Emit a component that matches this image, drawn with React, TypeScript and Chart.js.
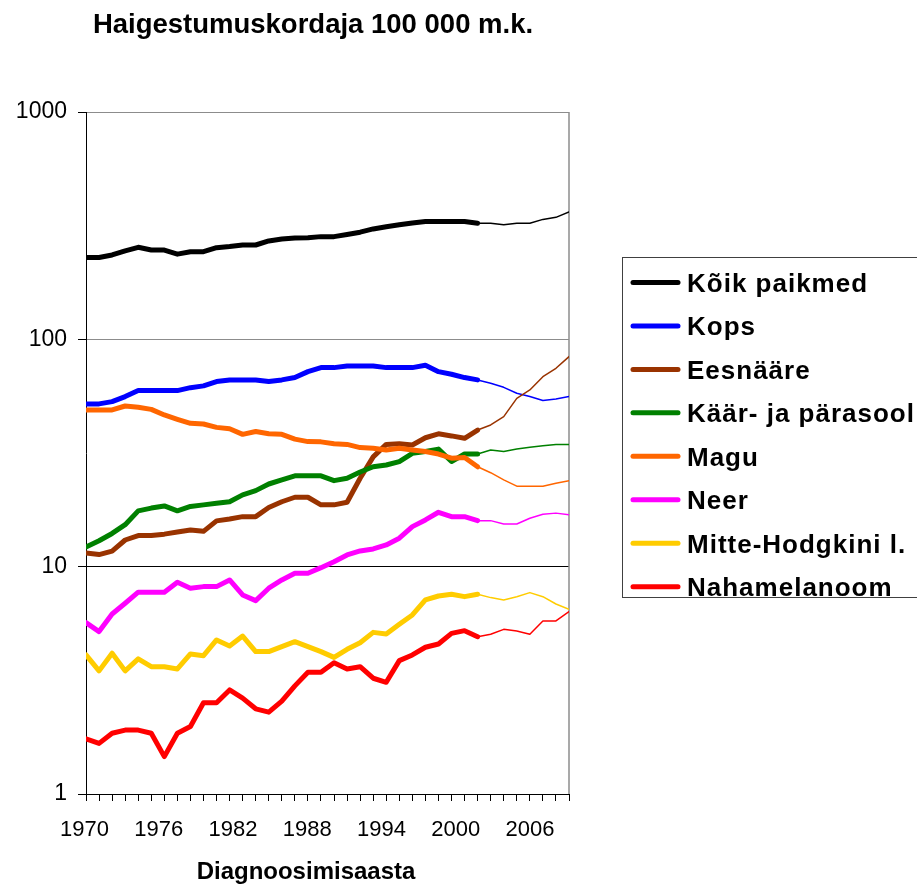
import React, { useEffect, useRef } from 'react';
import { Chart, registerables } from 'chart.js';

Chart.register(...registerables);

const chartTitle = 'Haigestumuskordaja 100 000 m.k.';
const xAxisTitle = 'Diagnoosimisaasta';

const years = [
  1970, 1971, 1972, 1973, 1974, 1975, 1976, 1977, 1978, 1979,
  1980, 1981, 1982, 1983, 1984, 1985, 1986, 1987, 1988, 1989,
  1990, 1991, 1992, 1993, 1994, 1995, 1996, 1997, 1998, 1999,
  2000, 2001, 2002, 2003, 2004, 2005, 2006, 2007,
];
const xTickLabels = ['1970', '1976', '1982', '1988', '1994', '2000', '2006'];
const yTickValues = [1, 10, 100, 1000];

const seriesNames = [
  'Kõik paikmed',
  'Kops',
  'Eesnääre',
  'Käär- ja pärasool',
  'Magu',
  'Neer',
  'Mitte-Hodgkini l.',
  'Nahamelanoom',
];
const seriesColors = ['#000000', '#0000FF', '#993300', '#008000', '#FF6600', '#FF00FF', '#FFCC00', '#FF0000'];

const allSites = [229, 229, 235, 245, 254, 247, 247, 237, 243, 243, 253, 256, 260, 260, 271, 276, 279, 280, 283, 283, 289, 296, 306, 313, 319, 325, 330, 330, 330, 330, 324, 324, 319, 324, 324, 337, 344, 363];
const lung = [52, 52, 53.2, 56, 59.5, 59.5, 59.5, 59.5, 61.3, 62.4, 65.2, 66.3, 66.3, 66.3, 65.2, 66.3, 67.9, 72.1, 75.1, 75.1, 76.4, 76.4, 76.4, 75.1, 75.1, 75.1, 76.9, 72.1, 70.2, 67.9, 66.3, 64.1, 61.5, 57.9, 56, 53.8, 54.7, 56];
const prostate = [11.5, 11.3, 11.7, 13.1, 13.7, 13.7, 13.9, 14.2, 14.5, 14.3, 15.9, 16.2, 16.6, 16.6, 18.2, 19.3, 20.2, 20.2, 18.7, 18.7, 19.2, 24.5, 30.4, 34.5, 34.7, 34.3, 36.9, 38.4, 37.6, 36.7, 39.9, 42.0, 45.7, 55.0, 59.9, 68.5, 74.6, 83.9];
const colorectal = [12.2, 13.0, 14.0, 15.3, 17.6, 18.1, 18.5, 17.6, 18.4, 18.7, 19.0, 19.3, 20.7, 21.6, 23.1, 24.1, 25.1, 25.1, 25.1, 23.9, 24.5, 26.1, 27.5, 28.0, 29.0, 31.5, 32.1, 32.9, 29.0, 31.3, 31.3, 32.6, 32.1, 32.9, 33.5, 34.0, 34.5, 34.5];
const stomach = [48.9, 48.9, 48.9, 50.9, 50.3, 49.2, 46.5, 44.5, 42.7, 42.4, 41.0, 40.4, 38.2, 39.3, 38.4, 38.2, 36.4, 35.5, 35.4, 34.7, 34.5, 33.4, 33.2, 32.6, 33.2, 32.6, 32.1, 31.3, 30.0, 30.2, 27.5, 25.9, 24.1, 22.6, 22.6, 22.6, 23.3, 23.9];
const kidney = [5.67, 5.18, 6.19, 6.9, 7.72, 7.72, 7.72, 8.54, 8.04, 8.17, 8.17, 8.74, 7.51, 7.09, 8.04, 8.74, 9.35, 9.35, 9.9, 10.52, 11.26, 11.73, 11.97, 12.46, 13.34, 15.0, 16.05, 17.35, 16.6, 16.6, 15.94, 15.94, 15.4, 15.4, 16.33, 17.0, 17.2, 16.9];
const nhl = [4.09, 3.48, 4.16, 3.48, 3.93, 3.63, 3.63, 3.55, 4.13, 4.06, 4.76, 4.48, 4.95, 4.23, 4.23, 4.45, 4.68, 4.45, 4.23, 3.99, 4.33, 4.63, 5.14, 5.06, 5.58, 6.13, 7.14, 7.43, 7.56, 7.38, 7.56, 7.31, 7.14, 7.38, 7.69, 7.38, 6.85, 6.49];
const melanoma = [1.75, 1.67, 1.85, 1.91, 1.91, 1.85, 1.46, 1.85, 1.98, 2.52, 2.52, 2.87, 2.64, 2.37, 2.29, 2.56, 2.99, 3.43, 3.43, 3.78, 3.55, 3.63, 3.23, 3.1, 3.86, 4.09, 4.42, 4.57, 5.09, 5.23, 4.92, 5.04, 5.3, 5.21, 5.04, 5.77, 5.77, 6.34];

const LAST_THICK_YEAR = 2000;
const FONT = "'Liberation Sans', Arial, Helvetica, sans-serif";

export default function App() {
  const ref = useRef<HTMLCanvasElement>(null);

  useEffect(() => {
    const canvas = ref.current;
    if (!canvas) return;
    const series = [allSites, lung, prostate, colorectal, stomach, kidney, nhl, melanoma];
    const thickEnd = years.indexOf(LAST_THICK_YEAR);

    const datasets = series.map((vals, i) => ({
      label: seriesNames[i],
      data: years.map((yr, j) => ({ x: yr, y: vals[j] })),
      borderColor: seriesColors[i],
      backgroundColor: seriesColors[i],
      borderWidth: 5,
      borderCapStyle: 'round' as const,
      borderJoinStyle: 'round' as const,
      pointRadius: 0,
      pointHoverRadius: 0,
      tension: 0,
      order: series.length - i,
      segment: {
        borderWidth: (c: any) => (c.p0DataIndex >= thickEnd ? 1.5 : 5),
      },
    }));

    const decor = {
      id: 'decor',
      beforeDatasetsDraw(chart: any) {
        const { ctx, chartArea } = chart;
        ctx.save();
        ctx.strokeStyle = '#8c8c8c';
        ctx.lineWidth = 1.5;
        ctx.beginPath();
        ctx.moveTo(chartArea.right, chartArea.top);
        ctx.lineTo(chartArea.right, chartArea.bottom);
        ctx.stroke();
        ctx.restore();
      },
      afterDraw(chart: any) {
        const { ctx } = chart;
        ctx.save();
        ctx.fillStyle = '#000';
        ctx.textBaseline = 'alphabetic';
        // title
        ctx.font = `bold 27.5px ${FONT}`;
        (ctx as any).letterSpacing = '0px';
        ctx.textAlign = 'center';
        ctx.fillText(chartTitle, 313, 33);
        // x axis title
        ctx.font = `bold 24px ${FONT}`;
        ctx.fillText(xAxisTitle, 306, 879);
        // legend
        const lx = 622.5, ly = 257.5, lw = 400, lh = 340;
        ctx.strokeStyle = '#404040';
        ctx.lineWidth = 1;
        ctx.strokeRect(lx, ly, lw, lh);
        ctx.textAlign = 'left';
        ctx.font = `bold 26px ${FONT}`;
        (ctx as any).letterSpacing = '1px';
        chart.data.datasets.forEach((ds: any, i: number) => {
          const cy = 282.5 + i * 43.45;
          ctx.strokeStyle = ds.borderColor;
          ctx.lineWidth = 5;
          ctx.lineCap = 'round';
          ctx.beginPath();
          ctx.moveTo(633, cy);
          ctx.lineTo(678, cy);
          ctx.stroke();
          ctx.fillStyle = '#000';
          ctx.fillText(ds.label, 687, cy + 9.3);
        });
        ctx.restore();
      },
    };

    const chart = new Chart(canvas, {
      type: 'line',
      data: { datasets },
      options: {
        responsive: false,
        animation: false,
        devicePixelRatio: 1,
        layout: { padding: { top: 112, right: 348, bottom: 0, left: 0 } },
        plugins: {
          legend: { display: false },
          tooltip: { enabled: false },
          title: { display: false },
        },
        events: [],
        scales: {
          x: {
            type: 'linear',
            position: 'bottom',
            weight: 0,
            bounds: 'data',
            min: years[0],
            max: years[years.length - 1],
            afterBuildTicks: (s: any) => {
              s.ticks = years.map((v) => ({ value: v }));
            },
            afterFit: (s: any) => {
              s.height = 8;
            },
            ticks: { display: false, autoSkip: false },
            grid: { drawOnChartArea: false, drawTicks: true, tickLength: 7, color: '#000', lineWidth: 1 },
            border: { color: '#000', width: 1 },
          },
          x2: {
            type: 'linear',
            position: 'bottom',
            weight: 1,
            bounds: 'data',
            min: 0.0202,
            max: 6.525,
            afterBuildTicks: (s: any) => {
              s.ticks = xTickLabels.map((_, i) => ({ value: i }));
            },
            afterFit: (s: any) => {
              s.height = 91;
            },
            ticks: {
              autoSkip: false,
              maxRotation: 0,
              padding: 15,
              color: '#000',
              font: { family: FONT, size: 22 },
              callback: (_v: any, i: number) => xTickLabels[i],
            },
            grid: { display: false, drawTicks: false },
            border: { display: false },
          },
          y: {
            type: 'logarithmic',
            position: 'left',
            min: 1,
            max: 1000,
            afterBuildTicks: (s: any) => {
              s.ticks = yTickValues.map((v) => ({ value: v }));
            },
            afterFit: (s: any) => {
              s.width = 86;
            },
            ticks: {
              autoSkip: false,
              padding: 11,
              color: '#000',
              font: { family: FONT, size: 23 },
              callback: (v: any) => String(v),
            },
            grid: {
              color: (c: any) => (c.tick && c.tick.value === 10 ? '#000000' : '#8c8c8c'),
              tickColor: '#000',
              tickLength: 8,
              lineWidth: 1,
            },
            border: { color: '#000', width: 1 },
          },
        },
      } as any,
      plugins: [decor],
    });

    return () => chart.destroy();
  }, []);

  return (
    <div style={{ position: 'fixed', left: 0, top: 0, width: 917, height: 893, background: '#fff' }}>
      <canvas ref={ref} width={917} height={893} style={{ display: 'block', width: 917, height: 893 }} />
    </div>
  );
}
